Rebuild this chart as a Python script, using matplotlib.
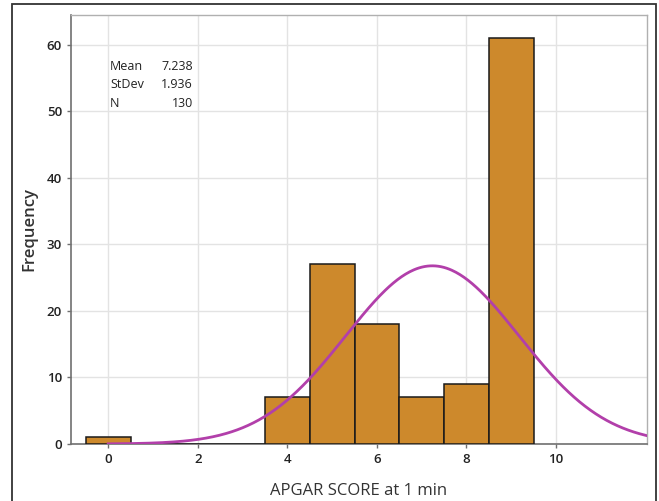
import numpy as np
import matplotlib
matplotlib.use("Agg")
import matplotlib.pyplot as plt
from matplotlib.patches import Rectangle

scores = [0, 1, 2, 3, 4, 5, 6, 7, 8, 9]
counts = [1, 0, 0, 0, 7, 27, 18, 7, 9, 61]
mean_v = 7.238
sd_v = 1.936
n_v = 130
xticks = [0, 2, 4, 6, 8, 10]
yticks = [0, 10, 20, 30, 40, 50, 60]

plt.rcParams['font.family'] = ['Open Sans', 'DejaVu Sans']

fig = plt.figure(figsize=(6.59, 5.01), dpi=100)
W, H = 659, 501
ax = fig.add_axes([71 / W, 1 - 444 / H, (647 - 71) / W, (444 - 15) / H])

ax.bar(scores, counts, width=1.0, color='#CD892C', edgecolor='#1a1a1a', linewidth=1.1, zorder=3)

xs = np.linspace(0, 12.1, 400)
ys = n_v * 1.0 / (sd_v * np.sqrt(2 * np.pi)) * np.exp(-0.5 * ((xs - mean_v) / sd_v) ** 2)
ax.plot(xs, ys, color='#B23FAA', linewidth=2.0, zorder=4)

ax.set_xlim(-0.83, 12.03)
ax.set_ylim(0, 64.5)
ax.set_xticks(xticks)
ax.set_yticks(yticks)
ax.grid(True, color='#e3e3e3', linewidth=1.0, zorder=0)
ax.set_axisbelow(True)

for s in ['top', 'right']:
    ax.spines[s].set_color('#b0b0b0')
    ax.spines[s].set_linewidth(1.0)
for s in ['left', 'bottom']:
    ax.spines[s].set_color('#707070')
    ax.spines[s].set_linewidth(1.2)

ax.tick_params(axis='both', direction='out', length=3, width=1, color='#707070',
               labelsize=9.5, labelcolor='#222222')
for lab in ax.get_xticklabels() + ax.get_yticklabels():
    lab.set_fontweight('semibold')

ax.set_xlabel('APGAR SCORE at 1 min', fontsize=12, color='#333333', labelpad=12)
ax.set_ylabel('Frequency', fontsize=12, color='#333333', fontweight='semibold', labelpad=7)

labels = ['Mean', 'StDev', 'N']
vals = ['7.238', '1.936', '130']
for i, (l, v) in enumerate(zip(labels, vals)):
    y = 1 - (66 + i * 19) / H
    fig.text(110 / W, y, l, fontsize=9, color='#222222', va='center', ha='left')
    fig.text(193 / W, y, v, fontsize=9, color='#222222', va='center', ha='right')

fig.patches.append(Rectangle((12 / W, -0.05), (656 - 12) / W, 1.05 - 4 / H,
                             transform=fig.transFigure, fill=False,
                             edgecolor='#333333', linewidth=1.3))

fig.savefig('out.png', dpi=100)
